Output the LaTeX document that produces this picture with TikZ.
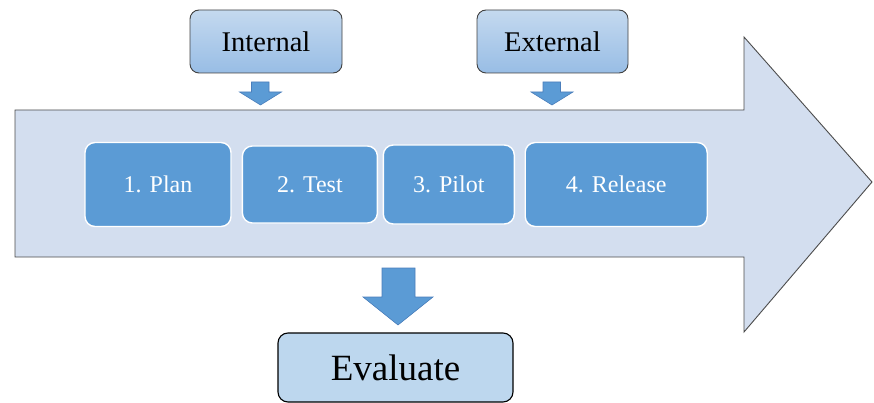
\documentclass[tikz,border=0pt]{standalone}
\usepackage{fontspec}
\setmainfont{Liberation Serif}
\usetikzlibrary{positioning}
\definecolor{shaftfill}{HTML}{D3DEEF}
\definecolor{stepfill}{HTML}{5B9BD5}
\definecolor{stepline}{HTML}{4A7EBB}
\definecolor{toptop}{HTML}{C4D9EF}
\definecolor{topbot}{HTML}{98BDE5}
\definecolor{evalfill}{HTML}{BDD7EE}

\begin{document}
\begin{tikzpicture}[
    x=1pt, y=-1pt,
    stepbox/.style={rectangle, rounded corners=10pt, draw=white, line width=1.4pt, fill=stepfill, text=white, minimum height=77pt, font=\fontsize{24}{26}\selectfont},
    sourcebox/.style={rectangle, rounded corners=9pt, draw=black!75, line width=0.9pt, top color=toptop, bottom color=topbot, minimum width=152pt, minimum height=63pt, font=\fontsize{28.5}{31}\selectfont},
    evalbox/.style={rectangle, rounded corners=10pt, draw=black, line width=1.1pt, fill=evalfill, minimum width=235pt, minimum height=69pt, font=\fontsize{37}{40}\selectfont},
    blockarrow/.style={fill=stepfill, draw=stepline, line width=0.6pt, line join=miter}
]
    \useasboundingbox (0,0) rectangle (874,403);

    % Big process arrow
    \draw[fill=shaftfill, draw=black!70, line width=0.9pt, line join=miter]
        (15,110) -- (744,110) -- (744,37) -- (872,182) -- (744,332) -- (744,257) -- (15,257) -- cycle;

    % Steps
    \node[stepbox, minimum width=146pt, minimum height=84pt] (plan) at (158,184.5) {1. Plan};
    \node[stepbox, minimum width=135pt, right=10pt of plan] (test) {2. Test};
    \node[stepbox, minimum width=131pt, minimum height=79pt, right=4.5pt of test] (pilot) {3. Pilot};
    \node[stepbox, minimum width=182pt, minimum height=84pt, right=9.5pt of pilot] (release) {4. Release};

    % Internal / external
    \node[sourcebox] (internal) at (266,41.5) {Internal};
    \node[sourcebox, minimum width=151pt] (external) at (552.5,41.5) {External};

    \draw[blockarrow] (251.5,82) -- (269,82) -- (269,92) -- (281.5,92) -- (260.5,105)
        -- (239.5,92) -- (251.5,92) -- cycle;
    \draw[blockarrow] (543,82) -- (560.5,82) -- (560.5,92) -- (573,92) -- (552,105)
        -- (531,92) -- (543,92) -- cycle;

    % Evaluate
    \draw[blockarrow] (382,268) -- (415,268) -- (415,297) -- (433,297) -- (398,325)
        -- (363,297) -- (382,297) -- cycle;
    \node[evalbox] (evaluate) at (395.5,367.5) {Evaluate};
\end{tikzpicture}
\end{document}
